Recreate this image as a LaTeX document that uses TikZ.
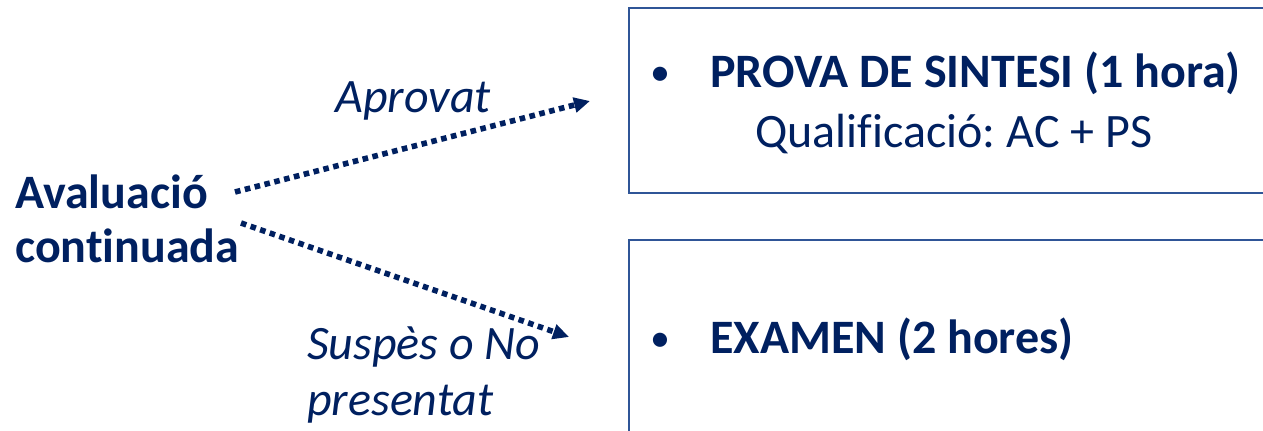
\documentclass[tikz,border=0pt]{standalone}
\usepackage{fontspec}
\setmainfont[Ligatures=NoCommon]{Carlito}
\usepackage{xcolor}
\usetikzlibrary{arrows.meta,positioning}
\definecolor{navy}{HTML}{002060}
\definecolor{boxblue}{HTML}{2F5597}
\frenchspacing
\tikzset{
	txt/.style={text=navy,inner sep=0pt,anchor=base west,align=left,font=\fontsize{36}{40}\selectfont},
	flow/.style={navy,line width=4.2pt,dash pattern=on 4.2pt off 3.4pt,-{Triangle[length=12pt,width=11pt]}},
	panel/.style={draw=boxblue,line width=1.5pt}
}
\begin{document}
\begin{tikzpicture}[x=0.75pt,y=-0.75pt]
			\useasboundingbox (0,0) rectangle (1263,431);
			\clip (0,0) rectangle (1263,431);
			\draw[panel] (629,8) rectangle (1290,193);
			\draw[panel] (629,240) rectangle (1290,460);
			\node[txt,font=\fontsize{36}{40}\selectfont\bfseries] (eval) at (15,262) {Avaluació\\continuada};
			\node[txt,font=\fontsize{36}{40}\selectfont\itshape] (ok) at (335,113) {Aprovat};
			\node[txt,font=\fontsize{36}{42}\selectfont\itshape] (ko) at (307,415) {Suspès o No\\presentat};
			\node[txt,font=\fontsize{30}{40}\selectfont] (b1) at (650,86) {\textbullet};
			\node[txt,font=\fontsize{36}{40}\selectfont\bfseries] (ps) at (710,88) {PROVA DE SINTESI (1 hora)};
			\node[txt] (qual) at (755,147) {Qualificació: AC + PS};
			\node[txt,font=\fontsize{30}{40}\selectfont] (b2) at (650,351) {\textbullet};
			\node[txt,font=\fontsize{36}{40}\selectfont\bfseries] (ex) at (710,353) {EXAMEN (2 hores)};
			\coordinate (s1) at (235,192);
			\coordinate (e1) at (590,101);
			\coordinate (s2) at (241,223);
			\coordinate (e2) at (569,337);
			\draw[flow] (s1) -- (e1);
			\draw[flow] (s2) -- (e2);
		\end{tikzpicture}
\end{document}
